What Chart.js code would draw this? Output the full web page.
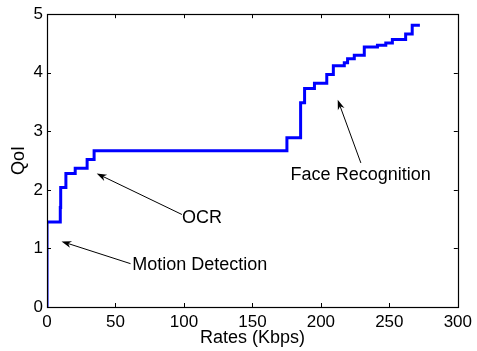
<!DOCTYPE html>
<html>
<head>
<meta charset="utf-8">
<script src="https://cdn.jsdelivr.net/npm/chart.js@4/dist/chart.umd.min.js"></script>
<style>
  html, body { margin: 0; padding: 0; background: #fff; }
  #wrap { width: 477px; height: 351px; }
</style>
</head>
<body>
<div id="wrap"><canvas id="c" width="477" height="351"></canvas></div>
<script>
// Step curve: QoI reached at each rate (Kbps)
const rates = [0, 0, 9.7, 10.0, 13.8, 20.6, 29.3, 34.4, 175.2, 185.2, 188.1, 195.3, 204.3, 209.1, 217.1, 219.5, 224.4, 231.7, 241.3, 247.4, 252.2, 261.9, 266.7, 272.3];
const qoi   = [0, 1.45, 1.70, 2.04, 2.28, 2.37, 2.52, 2.67, 2.89, 3.49, 3.73, 3.82, 3.97, 4.12, 4.17, 4.24, 4.30, 4.44, 4.47, 4.51, 4.57, 4.66, 4.81, 4.81];

// Tick values
const xTicks = [0, 50, 100, 150, 200, 250, 300];
const yTicks = [0, 1, 2, 3, 4, 5];

// Annotations (data coordinates): label, text anchor, arrow tail, arrow tip
const annLabels = ["Motion Detection", "OCR", "Face Recognition"];
const annTextX  = [62.2, 98.5, 177.9];
const annTextY  = [0.64, 1.44, 2.17];
const annTailX  = [61.0, 98.5, 229.2];
const annTailY  = [0.74, 1.58, 2.46];
const annTipX   = [10.6, 36.3, 212.3];
const annTipY   = [1.12, 2.28, 3.54];

const FONT = '"Liberation Sans", Arial, sans-serif';

const boxPlugin = {
  id: 'box',
  afterDraw(chart) {
    const {ctx, chartArea: a, scales: {x, y}} = chart;
    ctx.save();
    ctx.strokeStyle = '#000';
    ctx.lineWidth = 1;
    // inward ticks on all four sides
    const tl = 4;
    ctx.beginPath();
    xTicks.forEach(v => {
      const px = Math.round(x.getPixelForValue(v)) + 0.5;
      ctx.moveTo(px, a.bottom); ctx.lineTo(px, a.bottom - tl);
      ctx.moveTo(px, a.top); ctx.lineTo(px, a.top + tl);
    });
    yTicks.forEach(v => {
      const py = Math.round(y.getPixelForValue(v)) + 0.5;
      ctx.moveTo(a.left, py); ctx.lineTo(a.left + tl, py);
      ctx.moveTo(a.right, py); ctx.lineTo(a.right - tl, py);
    });
    ctx.stroke();
    // box
    ctx.lineWidth = 1.2;
    ctx.strokeRect(Math.round(a.left) + 0.5, Math.round(a.top) + 0.5,
                   Math.round(a.right - a.left), Math.round(a.bottom - a.top));
    // annotations
    ctx.fillStyle = '#000';
    ctx.font = '18px ' + FONT;
    ctx.textAlign = 'left';
    ctx.textBaseline = 'alphabetic';
    annLabels.forEach((t, i) => {
      ctx.fillText(t, x.getPixelForValue(annTextX[i]), y.getPixelForValue(annTextY[i]));
      const x0 = x.getPixelForValue(annTailX[i]), y0 = y.getPixelForValue(annTailY[i]);
      const x1 = x.getPixelForValue(annTipX[i]), y1 = y.getPixelForValue(annTipY[i]);
      const ang = Math.atan2(y1 - y0, x1 - x0);
      const hl = 10, hw = 3.5;
      ctx.lineWidth = 1;
      ctx.beginPath();
      ctx.moveTo(x0, y0);
      ctx.lineTo(x1 - Math.cos(ang) * hl * 0.6, y1 - Math.sin(ang) * hl * 0.6);
      ctx.stroke();
      const bx = x1 - Math.cos(ang) * hl, by = y1 - Math.sin(ang) * hl;
      ctx.beginPath();
      ctx.moveTo(x1, y1);
      ctx.lineTo(bx + Math.sin(ang) * hw, by - Math.cos(ang) * hw);
      ctx.lineTo(x1 - Math.cos(ang) * hl * 0.7, y1 - Math.sin(ang) * hl * 0.7);
      ctx.lineTo(bx - Math.sin(ang) * hw, by + Math.cos(ang) * hw);
      ctx.closePath();
      ctx.fill();
    });
    ctx.restore();
  }
};

new Chart(document.getElementById('c'), {
  type: 'line',
  data: {
    datasets: [{
      data: rates.map((r, i) => ({x: r, y: qoi[i]})),
      borderColor: '#0000ff',
      borderWidth: 3,
      stepped: 'before',
      pointRadius: 0,
      fill: false,
      borderJoinStyle: 'miter',
      borderCapStyle: 'butt'
    }]
  },
  options: {
    responsive: false,
    animation: false,
    events: [],
    layout: { padding: { top: 12, right: 17, left: 0, bottom: 0 } },
    plugins: { legend: { display: false }, tooltip: { enabled: false } },
    scales: {
      x: {
        type: 'linear',
        min: 0, max: 300,
        afterBuildTicks: s => { s.ticks = xTicks.map(v => ({value: v})); },
        afterFit: s => { s.height = 44; },
        grid: { display: false, drawTicks: false },
        border: { display: false },
        ticks: { color: '#000', font: { family: FONT, size: 17 }, padding: 5, maxRotation: 0, autoSkip: false },
        title: { display: true, text: 'Rates (Kbps)', color: '#000', font: { family: FONT, size: 18 }, padding: { top: 0, bottom: 2 } }
      },
      y: {
        min: 0, max: 5,
        afterBuildTicks: s => { s.ticks = yTicks.map(v => ({value: v})); },
        afterFit: s => { s.width = 47; },
        grid: { display: false, drawTicks: false },
        border: { display: false },
        ticks: { color: '#000', font: { family: FONT, size: 17 }, padding: 4, autoSkip: false },
        title: { display: true, text: 'QoI', color: '#000', font: { family: FONT, size: 18 }, padding: { top: 8, bottom: 0 } }
      }
    }
  },
  plugins: [boxPlugin]
});
</script>
</body>
</html>
